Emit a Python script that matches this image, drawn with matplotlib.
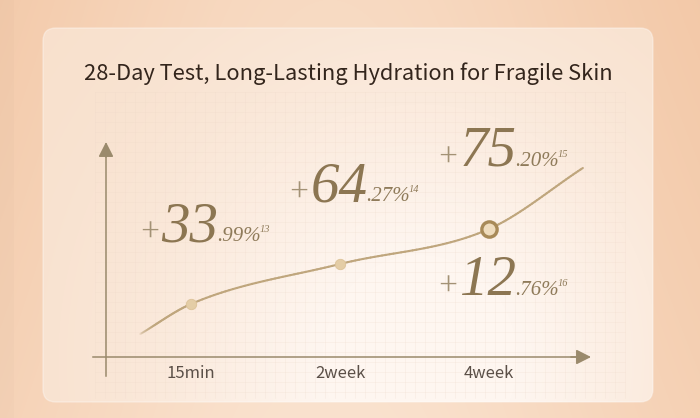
import numpy as np
import matplotlib
matplotlib.use("Agg")
import matplotlib.pyplot as plt
from matplotlib.patches import FancyBboxPatch
from matplotlib.bezier import BezierSegment
from matplotlib.collections import LineCollection
from matplotlib.transforms import IdentityTransform

# ---------------- data ----------------
title = "28-Day Test, Long-Lasting Hydration for Fragile Skin"
categories = ["15min", "2week", "4week"]
cat_pos = [0, 1, 2]
point_level = [53, 93, 128]          # height of the curve at each time point (relative units)
curve_x = [-0.34, 0, 1, 2, 2.63]     # knots of the decorative curve
curve_y = [23, 53, 93, 128, 189]
label_values = ["33.99", "64.27", "75.20", "12.76"]
label_notes = ["13", "14", "15", "16"]
label_cat = [0, 1, 2, 2]
label_side = [1, 1, 1, -1]            # 1 = above point, -1 = below

# ---------------- figure ----------------
W, H = 700, 418
fig = plt.figure(figsize=(7, 4.18), dpi=100)
bg = fig.add_axes([0, 0, 1, 1])
bg.set_xlim(0, W)
bg.set_ylim(H, 0)
bg.axis("off")

yy, xx = np.mgrid[0:H, 0:W] + 0.5
c_dark = np.array([241, 194, 158]) / 255
c_light = np.array([250, 226, 206]) / 255
w = np.exp(-((xx - 330) / 330) ** 2) * 0.75 + 0.25 * (yy / H)
w = np.clip(w, 0, 1)[..., None]
outer = c_dark * (1 - w) + c_light * w
outer[:, :14] = outer[:, :14] * 0.985
bg.imshow(outer, extent=(0, W, H, 0), aspect="auto", zorder=0, interpolation="bilinear")

p_peach = np.array([248, 224, 204]) / 255
p_cream = np.array([254, 246, 240]) / 255
wp = np.exp(-((xx - 420) / 260) ** 2 - ((yy - 360) / 280) ** 2)
wp = np.clip(wp * 1.15, 0, 1)[..., None]
panel_img = p_peach * (1 - wp) + p_cream * wp

panel = FancyBboxPatch((43, 28), 610, 374, boxstyle="round,pad=0,rounding_size=13",
                       facecolor="none", edgecolor=(1, 1, 1, 0.35), lw=1.0, zorder=2)
bg.add_patch(panel)
pim = bg.imshow(panel_img, extent=(0, W, H, 0), aspect="auto", zorder=1, interpolation="bilinear")
pim.set_clip_path(panel)

# faint grid
for gx in np.arange(95, 630, 10):
    bg.plot([gx, gx], [92, 398], color="#ecd6c6", lw=0.5, alpha=0.28, zorder=3)
for gy in np.arange(92, 400, 10):
    bg.plot([95, 625], [gy, gy], color="#ecd6c6", lw=0.5, alpha=0.28, zorder=3)

fig.text(348 / W, 1 - 74 / H, title, ha="center", va="center",
         fontsize=15.8, color="#33251c", family=["Noto Sans CJK SC", "DejaVu Sans"])

# ---------------- chart axes ----------------
ax = fig.add_axes([0, 0, 1, 1])
ax.patch.set_alpha(0)
ax.axis("off")
px_per_cat = 149.0
x0_pix = 191.0
axis_pix = 357.0
ax.set_xlim(-x0_pix / px_per_cat, (W - x0_pix) / px_per_cat)
ax.set_ylim(axis_pix - H, axis_pix)

axis_col = "#9a8a6c"
yaxis_x = (106 - x0_pix) / px_per_cat
arrow = dict(arrowstyle="-|>,head_length=0.75,head_width=0.38",
             mutation_scale=12, color=axis_col, lw=1.1, shrinkA=0, shrinkB=0)
# y axis
ax.plot([yaxis_x, yaxis_x], [-19, 205], color=axis_col, lw=1.1, zorder=4)
ax.annotate("", xy=(yaxis_x, 215), xytext=(yaxis_x, 200), arrowprops=arrow, zorder=4)
# x axis
ax.plot([(93 - x0_pix) / px_per_cat, 2.62], [0, 0], color=axis_col, lw=1.1, zorder=4)
ax.annotate("", xy=((591 - x0_pix) / px_per_cat, 0), xytext=(2.55, 0), arrowprops=arrow, zorder=4)

for c, lab in zip(cat_pos, categories):
    ax.text(c, -17, lab, ha="center", va="center", fontsize=12, color="#5b5048",
            family=["Noto Sans CJK SC", "DejaVu Sans"], zorder=5)

# smooth curve through the knots (cubic Bezier segments, tangent = mean of neighbouring secants)
kx = np.asarray(curve_x, float)
ky = np.asarray(curve_y, float)
sec = np.diff(ky) / np.diff(kx)
tan = np.concatenate([[sec[0]], (sec[:-1] + sec[1:]) / 2, [sec[-1]]])
poly = []
for i in range(len(kx) - 1):
    dx = kx[i + 1] - kx[i]
    ctrl = np.array([[kx[i], ky[i]],
                     [kx[i] + dx / 3, ky[i] + tan[i] * dx / 3],
                     [kx[i + 1] - dx / 3, ky[i + 1] - tan[i + 1] * dx / 3],
                     [kx[i + 1], ky[i + 1]]])
    part = BezierSegment(ctrl)(np.linspace(0, 1, 40))
    poly.append(part if i == 0 else part[1:])
poly = np.vstack(poly)
segs = np.stack([poly[:-1], poly[1:]], axis=1)
frac = np.linspace(0, 1, len(segs))
alpha = np.clip(0.25 + frac / 0.1, 0.25, 1.0)
cols = [(0.75, 0.65, 0.49, a) for a in alpha]
ax.add_collection(LineCollection(segs, colors=cols, lw=1.5, zorder=5, capstyle="round"))

ax.plot(cat_pos[:2], point_level[:2], "o", ms=7.5, color="#e4cda6", mec="#dcc298", mew=0.6, zorder=6)
ax.plot(cat_pos[2:], point_level[2:], "o", ms=11, color="#efdcbd", mec="#a88a58", mew=2.4, zorder=6)

# ---------------- value labels ----------------
fig.canvas.draw()
renderer = fig.canvas.get_renderer()
serif = "Liberation Serif"


def put(x, y, s, size, color):
    t = fig.text(x, y, s, transform=IdentityTransform(), ha="left", va="baseline",
                 fontsize=size, color=color, family=serif, style="italic", zorder=7)
    return t


for val, note, c, side in zip(label_values, label_notes, label_cat, label_side):
    px, py = ax.transData.transform((c, point_level[c]))
    bx = px - 53
    by = py + 63 if side > 0 else py - 66
    ip, dp = val.split(".")
    t1 = put(bx, by - 1, "+", 24, "#a39275")
    e1 = t1.get_window_extent(renderer)
    t2 = put(e1.x1 + 1, by, ip, 41, "#8c7652")
    e2 = t2.get_window_extent(renderer)
    t3 = put(e2.x1 - 1, by, "." + dp + "%", 15, "#8f7b5a")
    e3 = t3.get_window_extent(renderer)
    put(e3.x1 - 1.5, by + 9, note, 7.5, "#8f7b5a")

fig.savefig("out.png", dpi=100)
